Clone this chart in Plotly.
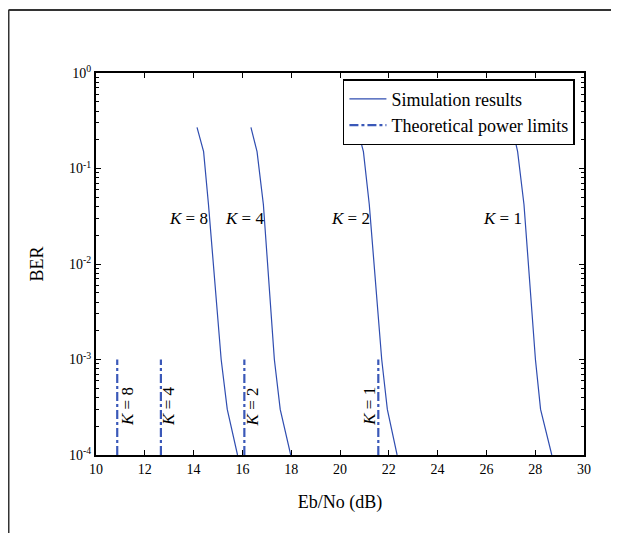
import math
import plotly.graph_objects as go

# ---- data ----
ber_levels = [0.27, 0.15, 0.042, 1e-3, 3e-4, 1e-4]
ebno_k8 = [14.14, 14.41, 14.61, 15.13, 15.38, 15.80]
ebno_k4 = [16.35, 16.60, 16.86, 17.31, 17.55, 17.98]
ebno_k2 = [20.70, 20.96, 21.20, 21.71, 21.94, 22.34]
ebno_k1 = [27.06, 27.28, 27.54, 28.01, 28.22, 28.68]

k_values = [8, 4, 2, 1]
limit_ebno = [10.87, 12.66, 16.08, 21.57]
limit_ber = [1e-4, 1e-3]

sim_label_x = [13.8, 16.07, 20.41, 26.64]
sim_label_y = 0.030
lim_label_x = [11.32, 13.0, 16.42, 21.23]
lim_label_y = 3.2e-4

x_ticks = [10, 12, 14, 16, 18, 20, 22, 24, 26, 28, 30]
y_ticks = [1e-4, 1e-3, 1e-2, 1e-1, 1]
y_ticktext = ["10<sup>-4</sup>", "10<sup>-3</sup>", "10<sup>-2</sup>",
              "10<sup>-1</sup>", "10<sup>0</sup>"]

FONT = "'Liberation Serif', 'Times New Roman', Times, serif"
SIM_COLOR = "#2f4db0"
LIM_COLOR = "#3a58b8"

fig = go.Figure()

sim_series = [ebno_k8, ebno_k4, ebno_k2, ebno_k1]
for i, xs in enumerate(sim_series):
    fig.add_trace(go.Scatter(
        x=xs, y=ber_levels, mode="lines",
        line=dict(color=SIM_COLOR, width=1.2),
        name="Simulation results", legendgroup="sim",
        showlegend=(i == 0), hoverinfo="skip"))

for i, xv in enumerate(limit_ebno):
    fig.add_trace(go.Scatter(
        x=[xv, xv], y=limit_ber, mode="lines",
        line=dict(color=LIM_COLOR, width=2.2, dash="dashdot"),
        name="Theoretical power limits", legendgroup="lim",
        showlegend=(i == 0), hoverinfo="skip"))

for k, xv in zip(k_values, sim_label_x):
    fig.add_annotation(x=xv, y=math.log10(sim_label_y), yref="y", xref="x",
                       text=f"<i>K</i> = {k}", showarrow=False,
                       font=dict(family=FONT, size=17, color="black"))
for k, xv in zip(k_values, lim_label_x):
    fig.add_annotation(x=xv, y=math.log10(lim_label_y), yref="y", xref="x",
                       text=f"<i>K</i> = {k}", showarrow=False, textangle=-90,
                       font=dict(family=FONT, size=17, color="black"))

# outer frame: only its top and left edges fall inside the image
frame_x, frame_y = -0.1793, 1.165
fig.add_shape(type="line", xref="paper", yref="paper",
              x0=frame_x, x1=1.5, y0=frame_y, y1=frame_y,
              line=dict(color="#333333", width=2), layer="below")
fig.add_shape(type="line", xref="paper", yref="paper",
              x0=frame_x, x1=frame_x, y0=-0.5, y1=frame_y,
              line=dict(color="#333333", width=2), layer="below")

fig.update_layout(
    width=603, height=525,
    margin=dict(l=88, r=27, t=65, b=78),
    paper_bgcolor="white", plot_bgcolor="white",
    font=dict(family=FONT, color="black", size=14),
    showlegend=True,
    legend=dict(x=0.506, y=0.984, xanchor="left", yanchor="top",
                bgcolor="white", bordercolor="black", borderwidth=1.5,
                font=dict(family=FONT, size=18),
                tracegroupgap=0, itemwidth=37),
    xaxis=dict(range=[10, 30], tickvals=x_ticks, ticks="inside", ticklen=5,
               tickwidth=1, tickcolor="black", showline=True, linecolor="black",
               linewidth=2, mirror="ticks", showgrid=False, zeroline=False,
               tickfont=dict(family=FONT, size=14),
               title=dict(text="Eb/No (dB)", font=dict(family=FONT, size=18),
                          standoff=20)),
    yaxis=dict(type="log", range=[-4, 0], tickvals=y_ticks, ticktext=y_ticktext,
               ticks="inside", ticklen=5, tickwidth=1, tickcolor="black",
               showline=True, linecolor="black", linewidth=2, mirror="ticks",
               showgrid=False, zeroline=False,
               tickfont=dict(family=FONT, size=14),
               minor=dict(ticks="inside", ticklen=3, tickcolor="black",
                          dtick="D1", showgrid=False),
               title=dict(text="BER", font=dict(family=FONT, size=18),
                          standoff=21)),
)

fig.write_html("out.html", config={"displayModeBar": False})
